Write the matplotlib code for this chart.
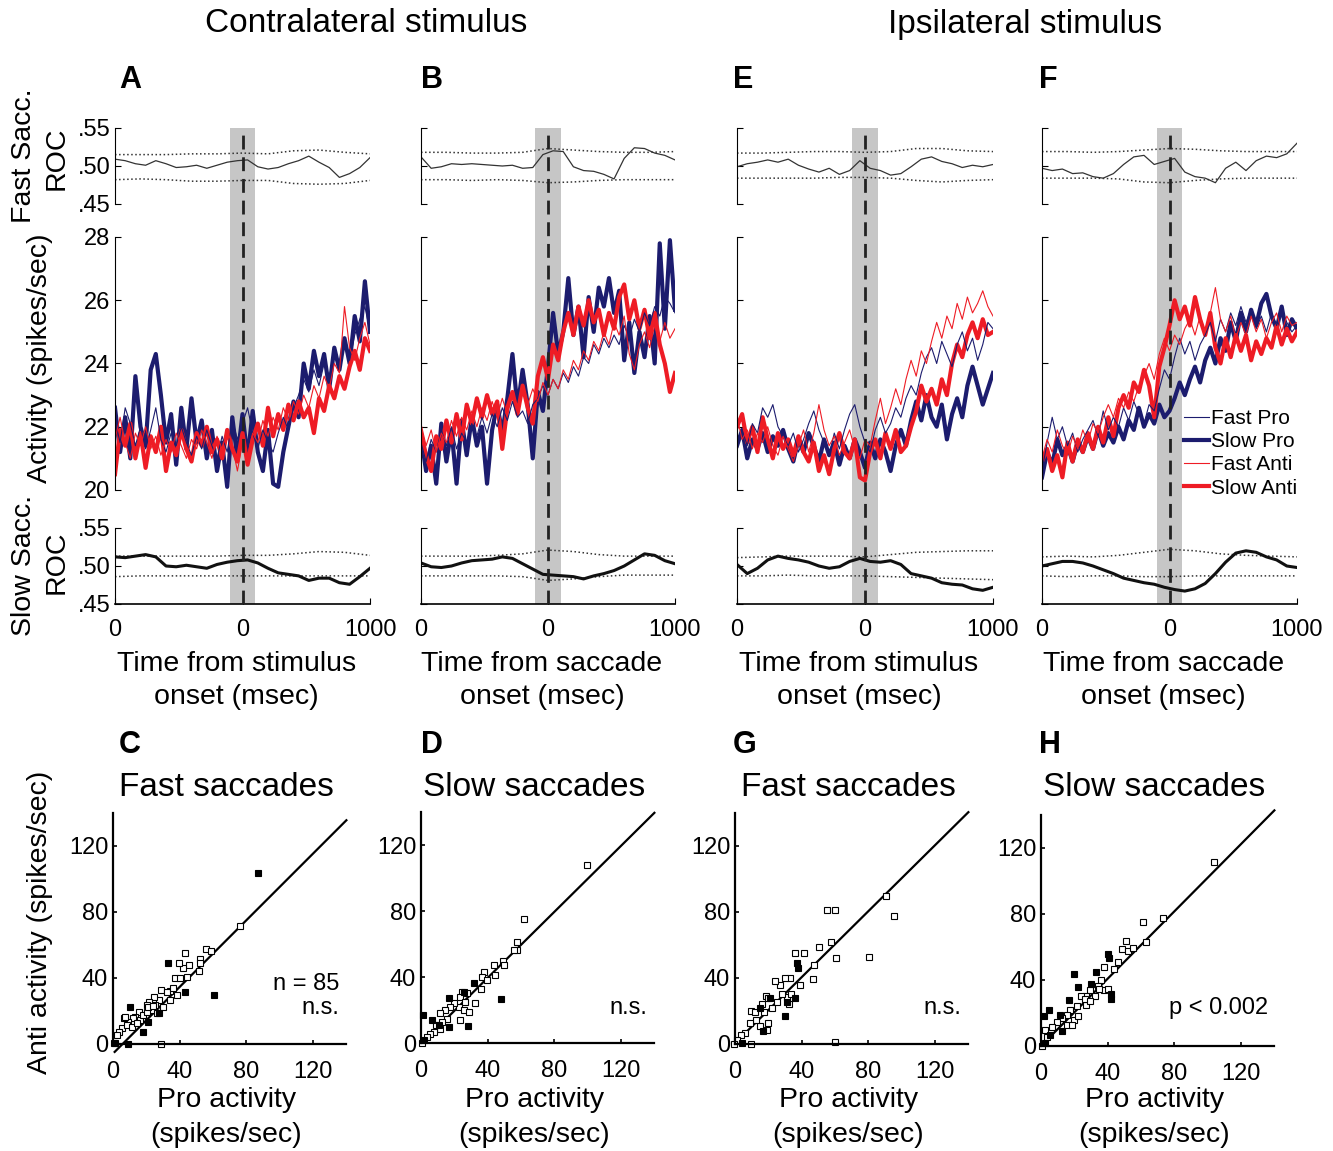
import numpy as np
import matplotlib.pyplot as plt
from matplotlib.lines import Line2D

plt.rcParams['font.family'] = ['Liberation Sans', 'DejaVu Sans']

W, H = 1333, 1151

# sample times (msec) for activity, ROC and ROC confidence bands
t_act = np.linspace(-1000, 1000, 51)
t_roc = np.linspace(-1000, 1000, 26)
t_band = np.linspace(-1000, 1000, 11)

# ---- panel A (contralateral, aligned on stimulus) ----
a_fast_pro = [22.2, 21.5, 22.6, 22.1, 21.4, 22.0, 21.3, 21.9, 22.6, 21.6, 21.2, 21.8, 21.4, 22.0, 21.5, 21.1, 21.7,
              21.3, 21.9, 21.4, 21.0, 21.7, 21.2, 22.2, 21.6, 22.1, 22.6, 21.8, 21.3, 21.9, 21.5, 21.2, 21.8, 22.3,
              21.9, 22.6, 23.0, 23.5, 23.1, 23.8, 23.3, 24.0, 23.6, 24.2, 23.9, 24.6, 24.1, 24.9, 25.4, 25.8, 25.0]
a_slow_pro = [22.6, 21.2, 22.3, 21.0, 23.6, 22.0, 21.4, 23.8, 24.3, 23.0, 21.5, 22.4, 20.8, 22.6, 21.3, 22.9, 21.5,
              22.2, 21.0, 21.9, 20.6, 21.5, 20.1, 22.3, 21.0, 22.4, 21.0, 22.5, 21.2, 20.6, 21.9, 20.2, 20.1, 21.2,
              22.0, 22.8, 22.3, 24.0, 23.2, 24.4, 23.6, 24.3, 23.2, 24.5, 23.8, 24.8, 24.0, 25.5, 24.7, 26.6, 25.0]
a_fast_anti = [21.6, 22.3, 21.5, 21.0, 21.8, 21.4, 22.0, 21.3, 21.7, 21.1, 21.6, 21.2, 21.8, 21.4, 21.0, 21.6, 21.3,
               21.9, 21.5, 21.0, 21.7, 21.3, 21.9, 21.4, 20.6, 21.5, 21.1, 21.8, 21.5, 22.2, 21.7, 22.3, 21.9, 22.6,
               22.2, 22.8, 22.4, 23.0, 22.6, 23.3, 22.9, 23.6, 23.2, 24.0, 23.7, 25.8, 24.5, 24.1, 24.8, 25.3, 24.6]
a_slow_anti = [20.5, 21.9, 21.4, 22.1, 21.0, 21.8, 20.7, 21.7, 21.2, 22.0, 20.6, 21.5, 21.1, 21.9, 21.3, 20.9, 21.8,
               21.4, 22.0, 21.2, 21.6, 21.0, 21.9, 21.3, 20.9, 21.8, 20.8, 21.6, 22.1, 21.4, 22.6, 21.7, 22.4, 21.9,
               22.7, 22.2, 22.8, 22.3, 22.6, 21.8, 22.9, 22.5, 23.3, 22.9, 23.6, 23.2, 23.9, 24.4, 23.8, 24.8, 24.4]
a_roc_fast = [.509, .507, .503, .501, .507, .503, .498, .499, .501, .497, .501, .505, .507, .508, .499, .496, .498,
              .503, .507, .513, .505, .498, .485, .490, .498, .511]
a_roc_slow = [.512, .511, .513, .515, .512, .500, .499, .501, .499, .497, .502, .505, .507, .508, .504, .497, .491,
              .489, .487, .481, .484, .484, .478, .476, .486, .497]
a_fast_hi = [.515, .515, .515, .516, .516, .517, .516, .520, .521, .518, .516]
a_fast_lo = [.482, .483, .482, .480, .480, .481, .481, .477, .476, .477, .481]
a_slow_hi = [.513, .513, .513, .513, .513, .514, .514, .516, .519, .518, .514]
a_slow_lo = [.486, .487, .487, .487, .487, .487, .487, .487, .487, .487, .487]

# ---- panel B (contralateral, aligned on saccade) ----
b_fast_pro = [21.5, 20.9, 21.6, 21.2, 21.9, 21.4, 22.0, 21.3, 21.8, 21.5, 22.1, 21.7, 22.3, 21.8, 22.4, 22.0, 22.6,
              22.2, 22.8, 22.3, 22.5, 22.1, 22.7, 22.9, 23.3, 23.0, 23.5, 23.2, 23.7, 23.4, 23.9, 23.6, 24.2, 24.0,
              24.6, 24.3, 24.8, 24.5, 24.9, 24.6, 25.2, 24.8, 25.4, 25.0, 25.6, 25.2, 25.8, 25.5, 26.1, 25.9, 25.6]
b_slow_pro = [21.7, 20.6, 21.4, 20.2, 22.1, 20.9, 21.9, 20.2, 22.2, 21.1, 22.3, 21.4, 22.0, 20.2, 21.9, 22.7, 21.8,
              22.9, 24.3, 22.6, 23.8, 22.7, 21.0, 23.1, 22.5, 23.9, 25.6, 24.3, 25.0, 26.7, 24.9, 25.8, 24.2, 26.1,
              25.0, 26.4, 25.8, 26.7, 25.6, 26.3, 24.1, 25.3, 23.7, 25.0, 24.2, 25.5, 24.0, 27.8, 25.1, 27.9, 25.7]
b_fast_anti = [22.1, 21.4, 21.9, 21.2, 21.8, 21.5, 22.2, 21.7, 22.3, 21.9, 22.5, 22.0, 22.6, 22.2, 22.8, 22.3, 22.9,
               22.4, 23.0, 22.6, 23.1, 22.7, 23.2, 22.8, 23.4, 23.0, 23.5, 23.2, 23.8, 23.5, 24.1, 23.8, 24.4, 24.1,
               24.7, 24.4, 25.0, 24.6, 25.3, 24.9, 25.5, 24.3, 23.8, 24.6, 25.0, 24.5, 25.2, 24.7, 25.3, 24.8, 25.1]
b_slow_anti = [21.8, 21.1, 20.6, 21.7, 21.3, 22.2, 21.5, 22.4, 21.6, 22.7, 22.1, 22.9, 22.3, 23.0, 22.4, 22.8, 21.3,
               22.6, 23.1, 22.4, 23.3, 22.6, 22.1, 23.6, 24.2, 23.5, 24.6, 24.1, 25.0, 25.6, 24.9, 25.8, 25.2, 26.0,
               25.3, 25.7, 24.9, 25.6, 25.1, 26.1, 26.5, 25.4, 26.0, 25.1, 25.7, 24.8, 25.6, 24.6, 24.0, 23.1, 23.7]
b_roc_fast = [.512, .497, .499, .503, .502, .503, .502, .501, .500, .501, .497, .498, .515, .520, .519, .499, .494,
              .493, .489, .483, .510, .524, .523, .517, .514, .508]
b_roc_slow = [.504, .499, .498, .500, .504, .507, .508, .509, .512, .510, .503, .496, .489, .488, .487, .486, .483,
              .487, .490, .494, .500, .508, .516, .514, .507, .503]
b_fast_hi = [.518, .518, .517, .517, .518, .523, .521, .519, .518, .518, .519]
b_fast_lo = [.482, .482, .481, .482, .481, .478, .479, .481, .482, .482, .482]
b_slow_hi = [.513, .513, .513, .514, .516, .521, .519, .515, .513, .513, .513]
b_slow_lo = [.487, .487, .487, .487, .486, .481, .483, .486, .488, .488, .488]

# ---- panel E (ipsilateral, aligned on stimulus) ----
e_fast_pro = [21.6, 21.9, 21.4, 22.1, 21.8, 22.6, 22.3, 22.7, 22.0, 21.7, 21.4, 21.8, 21.2, 21.6, 22.1, 22.5, 21.9,
              21.5, 21.1, 21.8, 21.3, 21.9, 22.4, 22.7, 22.0, 21.5, 21.2, 21.9, 22.3, 21.8, 22.1, 22.6, 22.3, 22.9,
              23.3, 23.0, 23.7, 24.2, 24.5, 24.0, 24.7, 24.3, 23.9, 24.6, 25.0, 24.4, 24.8, 24.1, 24.6, 25.3, 25.1]
e_slow_pro = [21.4, 21.9, 21.0, 21.6, 21.3, 21.8, 21.2, 21.7, 21.4, 21.9, 21.3, 20.9, 21.6, 21.2, 21.8, 21.4, 20.9,
              21.6, 21.1, 21.5, 20.8, 21.4, 21.0, 21.6, 21.2, 20.7, 21.5, 21.0, 21.6, 21.2, 20.6, 21.4, 21.9, 21.4,
              22.2, 22.8, 22.2, 23.0, 22.3, 22.0, 22.7, 21.6, 22.4, 22.9, 22.3, 23.3, 23.9, 23.3, 22.7, 23.2, 23.7]
e_fast_anti = [22.3, 21.6, 21.9, 21.3, 21.8, 21.5, 22.0, 21.4, 21.1, 21.7, 21.3, 20.9, 21.4, 21.9, 21.2, 21.8, 22.7,
               21.9, 21.4, 21.7, 21.1, 21.5, 21.9, 21.3, 21.0, 21.6, 21.4, 22.2, 22.9, 22.1, 22.6, 23.2, 22.7, 23.5,
               24.1, 23.6, 24.4, 24.0, 24.7, 25.3, 24.8, 25.5, 25.1, 25.9, 25.4, 26.1, 25.6, 25.9, 26.3, 25.8, 25.5]
e_slow_anti = [22.0, 22.4, 21.5, 22.0, 21.2, 22.3, 21.6, 21.0, 21.8, 21.3, 21.6, 21.1, 21.7, 21.2, 20.9, 21.5, 20.6,
               21.1, 20.5, 21.3, 21.8, 21.2, 21.0, 21.6, 20.4, 20.3, 21.2, 21.6, 21.0, 21.8, 21.3, 21.9, 21.2, 21.4,
               22.0, 22.5, 23.3, 22.8, 23.2, 22.7, 23.5, 23.0, 24.0, 24.6, 24.2, 24.9, 25.3, 24.8, 25.4, 24.9, 25.0]
e_roc_fast = [.499, .503, .505, .508, .505, .509, .501, .496, .492, .497, .489, .494, .507, .497, .494, .488, .490,
              .499, .509, .512, .506, .503, .498, .501, .499, .502]
e_roc_slow = [.502, .490, .497, .508, .513, .510, .508, .505, .500, .497, .499, .506, .510, .506, .505, .507, .502,
              .490, .487, .484, .478, .476, .475, .470, .468, .472]
e_fast_hi = [.517, .517, .518, .519, .519, .518, .519, .523, .523, .520, .519]
e_fast_lo = [.484, .484, .484, .484, .485, .485, .484, .481, .479, .481, .482]
e_slow_hi = [.511, .512, .513, .513, .513, .512, .515, .518, .519, .520, .520]
e_slow_lo = [.487, .487, .488, .487, .487, .487, .486, .485, .484, .483, .482]

# ---- panel F (ipsilateral, aligned on saccade) ----
f_fast_pro = [20.6, 21.5, 22.3, 21.6, 22.0, 21.4, 21.8, 21.2, 21.6, 21.9, 22.2, 21.7, 22.5, 21.9, 22.3, 22.0, 22.6,
              22.2, 22.8, 22.4, 22.1, 22.7, 22.5, 23.2, 23.8, 23.5, 24.2, 24.8, 24.3, 24.7, 24.1, 24.6, 24.9, 25.3,
              24.7, 25.4, 25.0, 25.6, 25.2, 25.8, 25.3, 25.7, 25.1, 25.5, 25.0, 25.6, 25.2, 25.7, 25.3, 25.0, 25.2]
f_slow_pro = [20.4, 21.2, 20.8, 21.6, 21.1, 21.4, 20.9, 21.5, 21.2, 21.7, 21.3, 21.9, 21.4, 21.8, 21.5, 22.0, 21.6,
              22.2, 21.9, 22.6, 22.0, 22.4, 22.1, 22.7, 22.3, 22.5, 22.9, 23.4, 23.0, 23.5, 23.9, 23.4, 24.1, 24.5,
              24.0, 24.8, 24.4, 25.3, 24.7, 25.6, 25.0, 25.7, 25.2, 25.9, 26.2, 25.5, 25.1, 25.8, 24.9, 25.4, 25.1]
f_fast_anti = [21.0, 21.6, 21.2, 21.9, 21.4, 21.1, 21.7, 21.3, 21.9, 21.5, 22.1, 21.8, 22.3, 22.7, 22.3, 22.9, 22.6,
               23.1, 22.8, 23.3, 23.6, 24.0, 23.5, 24.3, 24.8, 24.4, 24.9, 24.6, 25.1, 25.4, 24.9, 25.5, 25.0, 25.6,
               26.4, 25.4, 25.0, 25.5, 24.8, 25.3, 24.9, 25.5, 25.0, 25.4, 24.8, 25.3, 25.6, 25.0, 25.5, 25.2, 25.3]
f_slow_anti = [20.9, 21.3, 20.6, 21.1, 20.4, 21.5, 20.9, 21.6, 21.2, 21.8, 21.3, 22.0, 21.5, 22.3, 21.7, 22.6, 23.0,
               22.6, 23.4, 23.1, 23.8, 23.3, 22.3, 23.9, 24.5, 25.2, 26.0, 25.4, 25.8, 25.2, 26.1, 25.4, 24.9, 25.6,
               24.5, 24.0, 24.8, 24.2, 24.9, 24.4, 24.9, 24.1, 24.7, 24.3, 24.8, 24.5, 25.2, 24.6, 25.1, 24.7, 25.0]
f_roc_fast = [.497, .494, .496, .490, .491, .486, .484, .490, .502, .512, .514, .502, .506, .510, .492, .486, .484,
              .478, .497, .505, .494, .507, .513, .511, .516, .530]
f_roc_slow = [.500, .503, .506, .506, .504, .500, .495, .490, .484, .481, .478, .476, .472, .469, .467, .470, .477,
              .490, .505, .517, .520, .518, .512, .508, .500, .498]
f_fast_hi = [.519, .519, .518, .519, .521, .523, .522, .520, .519, .519, .519]
f_fast_lo = [.484, .484, .484, .483, .479, .478, .481, .483, .484, .484, .484]
f_slow_hi = [.512, .513, .512, .514, .518, .522, .520, .516, .514, .513, .512]
f_slow_lo = [.487, .486, .487, .487, .486, .486, .487, .487, .487, .487, .487]

# ---- scatter panels: anti vs pro activity, open = n.s. cell, filled = significant cell ----
c_open_x = [76, 55.6, 58.6, 52.2, 52.2, 51.6, 43.2, 45.6, 42.2, 39.4, 37, 38.2, 34, 34, 29, 27.6, 24.6, 21.8, 20.2,
            15.8, 13.2, 12.2, 9.2, 6.6, 5.2, 3.8, 2.4, 0.8, 29, 40.2, 44.2, 16.2, 17.8, 23.2, 25.2, 26.2, 30.2, 32.2,
            36.2, 8.2, 11.2, 14.2, 20.2, 21.2, 23.8, 7.2]
c_open_y = [71.5, 57.4, 56.4, 51.3, 49.3, 44.4, 55, 47.9, 45.9, 48.9, 40.2, 29.5, 32, 26.7, 32.7, 26.7, 28.3, 25.7,
            23.6, 19.6, 16.6, 15.6, 13.5, 15.6, 9.5, 7.5, 5.5, 0.4, 0, 39.8, 40.8, 14.5, 17.6, 20.6, 23.6, 18.6, 22.6,
            31.7, 33.7, 11.5, 10.5, 12.5, 19.6, 22.2, 23.0, 16.6]
c_fill_x = [86.8, 60.4, 32.8, 43.2, 10.2, 18.2, 27.4, 1.2, 9.2, 21]
c_fill_y = [103.8, 29.5, 48.9, 31.3, 22.2, 7.5, 18.6, 0.4, 0, 13.5]
c_fit = (1.01, -5.8)

d_open_x = [99.6, 62, 57.6, 57.6, 55.6, 49.2, 49.6, 43.6, 44.6, 37.6, 36.6, 39.6, 36, 32.6, 27.6, 24.6, 23.6, 22.6,
            23.2, 20, 17.6, 14.6, 11.6, 11.6, 7.6, 5.6, 3.6, 0.6, 25.6, 26.6, 28.6, 15.6, 12.6, 9.2]
d_open_y = [107.7, 75.2, 61, 56.5, 56.5, 49.4, 47.4, 47.4, 41.3, 43.3, 40.2, 38.2, 32.5, 24, 30.1, 31.1, 28, 22,
            14.2, 24, 22, 19.9, 17.9, 8.7, 6.7, 5.7, 3.7, 0, 19.9, 25, 18.9, 14.8, 12.8, 10.8]
d_fill_x = [1.2, 48, 28.2, 31.8, 17, 16.6, 6.6, 25.6, 1.6, 10.6]
d_fill_y = [16.9, 26.4, 10.2, 36.2, 27.4, 9.8, 13.8, 31.1, 1.6, 10.8]
d_fit = (1.0, -0.5)

g_open_x = [90.3, 95.4, 80.4, 55, 60.2, 57.6, 60.8, 50.1, 41.4, 36, 47.1, 46.9, 39, 32.7, 29.9, 26.9, 23.8, 18.6, 20,
            16.2, 9.7, 31.3, 32.3, 28.3, 25.3, 22.2, 19.6, 19.2, 15.2, 12.7, 9.1, 6.1, 3.6, 1.4, -0.4, 9.7, 60.2,
            12.1, 17.2, 33.3]
g_open_y = [89.7, 77.7, 53, 81.2, 81.2, 61.6, 52.4, 58.6, 55, 55, 47.8, 39.6, 35.9, 40.2, 40.2, 35.9, 37.9, 29.3,
            27.6, 24.1, 20, 28.2, 24.1, 30.3, 25.2, 22.1, 12.8, 8.7, 10.7, 14.8, 12.8, 6.6, 5.6, 2.5, 0, 0, 1.4, 19.4,
            19.4, 30.3]
g_fill_x = [37.4, 38, 36, 29.9, 20.8, 16.8, 4, 14.7, 31.3]
g_fill_y = [48.9, 46.2, 27.6, 16.9, 27.6, 8, 0.8, 22.1, 25.2]
g_fit = (1.0, 0.5)

h_open_x = [103.6, 73, 61.2, 63, 50.8, 48.6, 52.2, 55.2, 46, 43.6, 37.6, 36.2, 34, 37.6, 40, 32.6, 29.6, 27.2, 24.2,
            27.2, 21.6, 17.6, 15.6, 12.6, 9.6, 6.6, 2.6, 0.6, 3.6, 19.6, 15.6, 18.6, 22, 26.6, 29.6, 35]
h_open_y = [111.8, 77.6, 75.1, 62.9, 63.5, 58.8, 57.3, 59.2, 51, 46.9, 47.6, 40, 36.3, 33.9, 34.7, 30.2, 33.9, 30.6,
            30.2, 25.1, 24.1, 22, 19, 16.9, 14.3, 11.8, 9.8, 0, 5.7, 15.9, 12.9, 12.9, 18, 28.2, 27.1, 34.3]
h_fill_x = [20, 22, 33, 30, 40.2, 41, 42, 42, 4.6, 1.6, 16.6, 11.6, 12.6, 5.6, 2.6]
h_fill_y = [43.9, 35.7, 45.1, 37.8, 55.7, 53.3, 31.8, 28.2, 22, 18, 27.6, 18.6, 8.8, 6.7, 1.6]
h_fit = (1.02, 0.0)

NAVY = '#1c1c6e'
RED = '#ee1c25'
TICK = 17
THICK, THIN = 3.0, 0.8


def px_axes(fig, x0, y0, x1, y1, **kw):
    return fig.add_axes([x0 / W, 1 - y1 / H, (x1 - x0) / W, (y1 - y0) / H], **kw)


def ftext(fig, x, y, s, **kw):
    fig.text(x / W, 1 - y / H, s, **kw)


def bracket(ax, lw=0.8):
    for side in ['top', 'right', 'bottom']:
        ax.spines[side].set_visible(False)
    ax.spines['left'].set_linewidth(lw)
    ax.patch.set_visible(False)
    ax.set_xlim(-1000, 1000)
    ax.tick_params(direction='in', length=4, width=0.8, labelsize=TICK)


def time_column(fig, x0, x1, roc_f, f_hi, f_lo, act, roc_s, s_hi, s_lo, labels, xlabel, legend=False):
    bg = px_axes(fig, x0, 128, x1, 604, zorder=0)
    bg.set_xlim(-1000, 1000)
    bg.axvspan(-100, 100, color='#c6c6c6', lw=0)
    bg.axis('off')

    top = px_axes(fig, x0, 128, x1, 204, zorder=1)
    bracket(top)
    top.set_ylim(0.45, 0.55)
    top.set_xticks([])
    top.plot(t_band, f_hi, ':', color='#333333', lw=1.1)
    top.plot(t_band, f_lo, ':', color='#333333', lw=1.1)
    top.plot(t_roc, roc_f, color='#333333', lw=0.9)

    mid = px_axes(fig, x0, 237, x1, 490, zorder=1)
    bracket(mid)
    mid.set_ylim(20, 28)
    mid.set_xticks([])
    fast_pro, slow_pro, fast_anti, slow_anti = act
    mid.plot(t_act, slow_pro, color=NAVY, lw=THICK)
    mid.plot(t_act, slow_anti, color=RED, lw=THICK)
    mid.plot(t_act, fast_pro, color=NAVY, lw=THIN)
    mid.plot(t_act, fast_anti, color=RED, lw=THIN)

    bot = px_axes(fig, x0, 528, x1, 604, zorder=1)
    bracket(bot)
    bot.spines['bottom'].set_visible(True)
    bot.spines['bottom'].set_linewidth(1.2)
    bot.set_ylim(0.45, 0.55)
    bot.plot(t_band, s_hi, ':', color='#333333', lw=1.1)
    bot.plot(t_band, s_lo, ':', color='#333333', lw=1.1)
    bot.plot(t_roc, roc_s, color='#111111', lw=2.2)
    bot.set_xticks([-1000, 0, 1000])
    bot.set_xticklabels(['0', '0', '1000'])
    bot.tick_params(axis='x', pad=11)

    for ax in (top, bot):
        ax.set_yticks([0.45, 0.50, 0.55])
        ax.set_yticklabels(['.45', '.50', '.55'] if labels else [])
    mid.set_yticks([20, 22, 24, 26, 28])
    mid.set_yticklabels(['20', '22', '24', '26', '28'] if labels else [])

    fg = px_axes(fig, x0, 128, x1, 604, zorder=3)
    fg.set_xlim(-1000, 1000)
    fg.axvline(0, color='#222222', lw=2, dashes=(5, 2.8))
    fg.axis('off')

    cx = (x0 + x1) / 2
    ftext(fig, cx - 6, 664, xlabel[0], ha='center', va='center', fontsize=20.5)
    ftext(fig, cx - 6, 697, xlabel[1], ha='center', va='center', fontsize=20.5)

    if legend:
        handles = [Line2D([], [], color=NAVY, lw=THIN), Line2D([], [], color=NAVY, lw=THICK),
                   Line2D([], [], color=RED, lw=THIN), Line2D([], [], color=RED, lw=THICK)]
        mid.legend(handles, ['Fast Pro', 'Slow Pro', 'Fast Anti', 'Slow Anti'], loc='lower right',
                   bbox_to_anchor=(1.0, -0.03), frameon=False, fontsize=15, handlelength=1.2,
                   handletextpad=0.1, labelspacing=0.2, borderpad=0, borderaxespad=0)


def scatter_panel(fig, zx, zy, ox, oy, fx, fy, fit, title, note):
    sx, sy = 1.667, 1.65
    ax = px_axes(fig, zx - 4 * sx, zy - 140 * sy, zx + 140 * sx, zy + 8 * sy)
    ax.set_xlim(-4, 140)
    ax.set_ylim(-8, 140)
    for side in ['top', 'right']:
        ax.spines[side].set_visible(False)
    for side in ['left', 'bottom']:
        ax.spines[side].set_position(('data', 0))
        ax.spines[side].set_bounds(0, 140)
        ax.spines[side].set_linewidth(1.6)
    ax.patch.set_visible(False)
    ax.set_xticks([0, 40, 80, 120])
    ax.set_yticks([0, 40, 80, 120])
    ax.tick_params(direction='in', length=3, width=1.2, labelsize=TICK)
    ax.tick_params(axis='x', pad=12)
    xs = np.array([1.0, 140.0])
    ax.plot(xs, fit[0] * xs + fit[1], color='black', lw=1.6, clip_on=False)
    ax.plot(ox, oy, 's', ms=4.2, mfc='white', mec='black', mew=0.8, ls='none', clip_on=False)
    ax.plot(fx, fy, 's', ms=4.2, mfc='black', mec='black', mew=0.8, ls='none', clip_on=False)
    cx = zx + 68 * sx
    ftext(fig, cx, 787, title, ha='center', va='center', fontsize=24)
    ftext(fig, cx, 1100, 'Pro activity', ha='center', va='center', fontsize=20.5)
    ftext(fig, cx, 1135, '(spikes/sec)', ha='center', va='center', fontsize=20.5)
    for i, line in enumerate(note):
        ftext(fig, zx + 136 * sx, 1008 - 24 * (len(note) - 1 - i), line, ha='right', va='center', fontsize=17)


fig = plt.figure(figsize=(W / 100, H / 100), dpi=100)

time_column(fig, 115, 370, a_roc_fast, a_fast_hi, a_fast_lo, (a_fast_pro, a_slow_pro, a_fast_anti, a_slow_anti),
            a_roc_slow, a_slow_hi, a_slow_lo, True, ('Time from stimulus', 'onset (msec)'))
time_column(fig, 421, 675, b_roc_fast, b_fast_hi, b_fast_lo, (b_fast_pro, b_slow_pro, b_fast_anti, b_slow_anti),
            b_roc_slow, b_slow_hi, b_slow_lo, False, ('Time from saccade', 'onset (msec)'))
time_column(fig, 737, 993, e_roc_fast, e_fast_hi, e_fast_lo, (e_fast_pro, e_slow_pro, e_fast_anti, e_slow_anti),
            e_roc_slow, e_slow_hi, e_slow_lo, False, ('Time from stimulus', 'onset (msec)'))
time_column(fig, 1042, 1297, f_roc_fast, f_fast_hi, f_fast_lo, (f_fast_pro, f_slow_pro, f_fast_anti, f_slow_anti),
            f_roc_slow, f_slow_hi, f_slow_lo, False, ('Time from saccade', 'onset (msec)'), legend=True)

scatter_panel(fig, 113, 1044, c_open_x, c_open_y, c_fill_x, c_fill_y, c_fit, 'Fast saccades', ['n = 85', 'n.s.'])
scatter_panel(fig, 421, 1043, d_open_x, d_open_y, d_fill_x, d_fill_y, d_fit, 'Slow saccades', ['n.s.'])
scatter_panel(fig, 735, 1044, g_open_x, g_open_y, g_fill_x, g_fill_y, g_fit, 'Fast saccades', ['n.s.'])
scatter_panel(fig, 1041, 1046, h_open_x, h_open_y, h_fill_x, h_fill_y, h_fit, 'Slow saccades', ['p < 0.002'])

# headings, panel letters and shared y labels
ftext(fig, 366, 24, 'Contralateral stimulus', ha='center', va='center', fontsize=24)
ftext(fig, 1025, 24, 'Ipsilateral stimulus', ha='center', va='center', fontsize=24)
for letter, x, y in [('A', 130, 80), ('B', 432, 80), ('E', 743, 80), ('F', 1048, 80),
                     ('C', 130, 745), ('D', 432, 745), ('G', 745, 745), ('H', 1050, 745)]:
    ftext(fig, x, y, letter, ha='center', va='center', fontsize=22, fontweight='bold')

ftext(fig, 24, 156, 'Fast Sacc.', rotation=90, ha='center', va='center', fontsize=20.5)
ftext(fig, 57, 158, 'ROC', rotation=90, ha='center', va='center', fontsize=20.5)
ftext(fig, 40, 358, 'Activity (spikes/sec)', rotation=90, ha='center', va='center', fontsize=20.5)
ftext(fig, 24, 565, 'Slow Sacc.', rotation=90, ha='center', va='center', fontsize=20.5)
ftext(fig, 57, 562, 'ROC', rotation=90, ha='center', va='center', fontsize=20.5)
ftext(fig, 40, 922, 'Anti activity (spikes/sec)', rotation=90, ha='center', va='center', fontsize=20.5)

fig.savefig('out.png', dpi=100)
